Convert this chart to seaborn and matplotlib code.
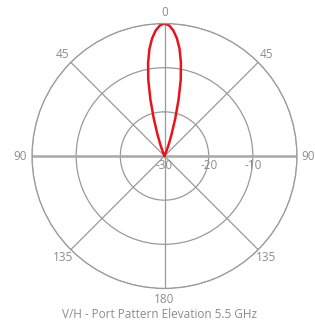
import numpy as np
import pandas as pd
import matplotlib
matplotlib.use("Agg")
import matplotlib.pyplot as plt
import seaborn as sns

# Data (elevation pattern, dB)
angles_deg = [-24, -22, -20, -18, -16, -14, -12, -10, -8, -6, -4, -2, 0,
              2, 4, 6, 8, 10, 12, 14, 16, 18, 20, 22, 24]
gain_db = [-30, -28.8, -27.2, -24.8, -21.2, -16.8, -12.3, -8.6, -5.5, -3.2, -1.5, -0.4, 0,
           -0.4, -1.5, -3.2, -5.5, -8.6, -12.3, -16.8, -21.2, -24.8, -27.2, -28.8, -30]
angle_ticks = [0, 45, 90, 135, 180, 225, 270, 315]
angle_labels = ["0", "45", "90", "135", "180", "135", "90", "45"]
r_ticks = [-30, -20, -10, 0]
r_labels = ["-30", "-20", "-10"]
title = "V/H - Port Pattern Elevation 5.5 GHz"

sns.set_theme(style="white")
plt.rcParams['font.family'] = ['Open Sans', 'DejaVu Sans']

txt = "#8c8c8c"
grid = "#9a9a9a"

fig = plt.figure(figsize=(3.15, 3.23), dpi=100)
ax = fig.add_axes([32/315, 34.5/323, 265/315, 265/323], projection="polar")

df = pd.DataFrame({"theta": np.deg2rad(angles_deg), "r": gain_db})
sns.lineplot(data=df, x="theta", y="r", sort=False, ax=ax, color="#e8141c", linewidth=1.8)

ax.set_theta_zero_location("N")
ax.set_theta_direction(-1)
ax.set_ylim(-30, 0)
ax.set_yticks(r_ticks)
ax.set_yticklabels([])
ax.set_xticks(np.deg2rad(angle_ticks))
ax.set_xticklabels([])
ax.set_xlabel("")
ax.set_ylabel("")
ax.grid(True, color=grid, linewidth=0.9)
ax.spines["polar"].set_color(grid)
ax.spines["polar"].set_linewidth(0.9)
ax.set_facecolor("none")

# horizontal emphasised axis line
ax.plot([np.deg2rad(90), np.deg2rad(90)], [-30, 0], color="#aaaaaa", linewidth=1.8, zorder=1)
ax.plot([np.deg2rad(270), np.deg2rad(270)], [-30, 0], color="#aaaaaa", linewidth=1.8, zorder=1)

# angle labels
for a, lab in zip(angle_ticks, angle_labels):
    ax.text(np.deg2rad(a), 2.6, lab, ha="center", va="center", fontsize=8.5,
            color=txt, clip_on=False)

# radial labels along right horizontal axis
for rv, lab in zip(r_ticks[:3], r_labels):
    ax.annotate(lab, xy=(np.deg2rad(90), rv), xytext=(0, -7), textcoords="offset points",
                ha="center", va="center", fontsize=8.5, color=txt, annotation_clip=False)

fig.text(160/315, 1 - 314/323, title, ha="center", va="center", fontsize=8.5, color=txt)

fig.savefig("out.png", dpi=100)
